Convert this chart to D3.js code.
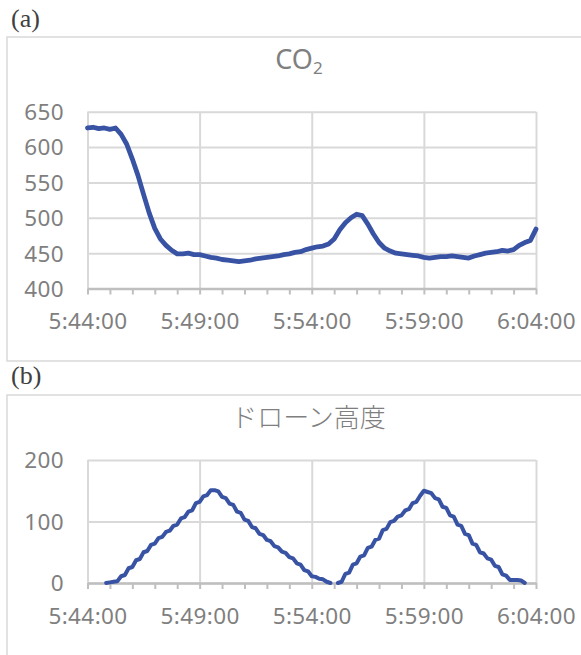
<!DOCTYPE html>
<html><head><meta charset="utf-8">
<script src="https://cdn.jsdelivr.net/npm/d3@7/dist/d3.min.js"></script>
<style>body{margin:0;background:#fff}</style>
</head><body>
<svg id="c" width="581" height="655"></svg>
<script>
// ---- data ----
const xTickLabels = ["5:44:00", "5:49:00", "5:54:00", "5:59:00", "6:04:00"];
const xTickSeconds = [0, 300, 600, 900, 1200]; // seconds after 5:44:00
const minorTickStep = 60;

const co2Title = "CO";
const co2Start = 0;   // seconds after 5:44:00
const co2Step = 15;   // seconds
const co2Values = [
  627, 628, 626, 627, 625, 627, 618, 604, 583, 560,
  533, 507, 485, 470, 461, 454, 449, 449, 450, 448,
  448, 446, 444, 443, 441, 440, 439, 438, 439, 440,
  442, 443, 444, 445, 446, 448, 449, 451, 452, 455,
  457, 459, 460, 463, 470, 483, 493, 500, 505, 503,
  491, 477, 465, 457, 453, 450, 449, 448, 447, 446,
  444, 443, 444, 445, 445, 446, 445, 444, 443, 446,
  448, 450, 451, 452, 454, 453, 455, 461, 465, 468,
  484
];
const co2Ticks = [400, 450, 500, 550, 600, 650];

const droneTitle = "ドローン高度";
const droneStart = 50;  // seconds after 5:44:00
const droneStep = 10;   // seconds
const droneValues = [
  0, 1, 2, 3, 11, 13, 24, 26, 37, 39,
  50, 52, 62, 64, 73, 75, 83, 85, 93, 95,
  105, 107, 116, 118, 130, 132, 141, 143, 151, 151,
  149, 140, 138, 129, 127, 116, 114, 103, 101, 91,
  89, 80, 78, 70, 68, 60, 58, 51, 49, 42,
  40, 32, 30, 21, 19, 11, 10, 7, 6, 2,
  0, null, 0, 2, 15, 17, 30, 32, 43, 45,
  57, 59, 70, 72, 86, 88, 99, 101, 108, 110,
  118, 120, 130, 132, 142, 150, 148, 146, 138, 136,
  124, 122, 110, 108, 95, 93, 80, 78, 64, 62,
  50, 48, 40, 38, 28, 26, 14, 12, 5, 5,
  5, 4, 0
];
const droneTicks = [0, 100, 200];

// ---- drawing ----
const svg = d3.select("#c");
const LINE = "#3953a4", GRID = "#d9d9d9", AXIS = "#bfbfbf", TXT = "#7f7f7f";
const latin = "'Noto Sans', 'DejaVu Sans', sans-serif";
const cjk = "'Noto Sans CJK JP', 'Noto Sans', sans-serif";
const TICKFS = 22.5, TICKLS = 0.4;

const x = d3.scaleLinear().domain([0, 1200]).range([87.5, 536]);

function panel(o) {
  const g = svg.append("g");
  g.append("rect").attr("x", 7).attr("y", o.boxTop).attr("width", 640).attr("height", o.boxH)
    .attr("fill", "none").attr("stroke", GRID).attr("stroke-width", 1.5);
  g.append("text").attr("x", 11).attr("y", o.labelY).text(o.label)
    .attr("font-family", "'Liberation Serif', 'DejaVu Serif', serif").attr("font-size", 26)
    .attr("fill", "#404040");

  const y = d3.scaleLinear().domain(o.domain).range([o.bottom, o.top]);

  g.append("g").attr("transform", `translate(${x.range()[0]},0)`)
    .call(d3.axisLeft(y).tickValues(o.ticks).tickSize(-(x.range()[1] - x.range()[0])).tickFormat(""))
    .call(a => a.select(".domain").remove())
    .call(a => a.selectAll("line").attr("stroke", GRID).attr("stroke-width", 2));
  g.append("g").attr("transform", `translate(0,${o.bottom})`)
    .call(d3.axisBottom(x).tickValues(xTickSeconds).tickSize(-(o.bottom - o.top)).tickFormat(""))
    .call(a => a.select(".domain").remove())
    .call(a => a.selectAll("line").attr("stroke", GRID).attr("stroke-width", 2));

  g.append("g").attr("transform", `translate(64,0)`)
    .call(d3.axisLeft(y).tickValues(o.ticks).tickSize(0).tickPadding(0))
    .call(a => a.select(".domain").remove())
    .call(a => a.selectAll("text").attr("fill", TXT).attr("font-size", TICKFS)
      .attr("letter-spacing", TICKLS).attr("font-family", latin).attr("dy", "0.35em"));

  const minor = d3.range(0, 1201, minorTickStep);
  g.append("g").attr("transform", `translate(0,${o.bottom})`)
    .call(d3.axisBottom(x).tickValues(minor).tickSize(6).tickSizeOuter(0).tickFormat(""))
    .call(a => a.select(".domain").attr("stroke", AXIS).attr("stroke-width", 2.5))
    .call(a => a.selectAll(".tick line").attr("stroke", AXIS).attr("stroke-width", 2));
  g.append("g").attr("transform", `translate(0,${o.bottom + 33})`)
    .call(d3.axisBottom(x).tickValues(xTickSeconds).tickSize(0).tickPadding(0)
      .tickFormat((d, i) => xTickLabels[i]))
    .call(a => a.select(".domain").remove())
    .call(a => a.selectAll("text").attr("fill", TXT).attr("font-size", TICKFS)
      .attr("letter-spacing", TICKLS).attr("font-family", latin).attr("dy", "0.35em"));

  const pts = o.values.map((v, i) => ({t: o.start + i * o.step, v}));
  g.append("path").datum(pts)
    .attr("fill", "none").attr("stroke", LINE).attr("stroke-width", o.lw)
    .attr("stroke-linejoin", "round").attr("stroke-linecap", "round")
    .attr("d", d3.line().defined(d => d.v != null).x(d => x(d.t)).y(d => y(d.v)));
  return g;
}

const ga = panel({label: "(a)", labelY: 27, boxTop: 37, boxH: 324, top: 111.7, bottom: 288.5,
  domain: [400, 650], ticks: co2Ticks, values: co2Values, start: co2Start, step: co2Step, lw: 4.8});
const t1 = ga.append("text").attr("x", 299).attr("y", 69).attr("text-anchor", "middle")
  .attr("font-family", latin).attr("font-size", 27).attr("fill", TXT);
t1.append("tspan").text(co2Title);
t1.append("tspan").text("2").attr("font-size", 17).attr("dy", 5);

const gb = panel({label: "(b)", labelY: 384, boxTop: 395, boxH: 300, top: 460, bottom: 583,
  domain: [0, 200], ticks: droneTicks, values: droneValues, start: droneStart, step: droneStep, lw: 4});
gb.append("text").attr("x", 308.5).attr("y", 418).attr("dy", "0.36em").attr("text-anchor", "middle")
  .attr("font-family", cjk).attr("font-size", 26).attr("font-weight", 300).attr("fill", TXT)
  .text(droneTitle);
</script>
</body></html>
